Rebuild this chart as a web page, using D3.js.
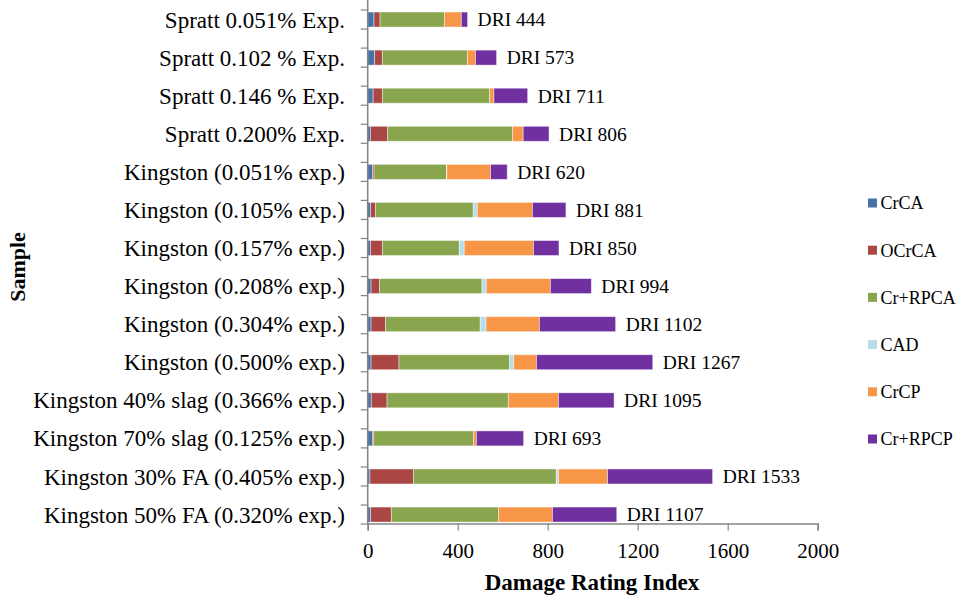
<!DOCTYPE html>
<html>
<head>
<meta charset="utf-8">
<script src="https://cdn.jsdelivr.net/npm/d3@7"></script>
<style>
  html, body { margin: 0; padding: 0; background: #fff; }
  svg { display: block; }
  text { font-family: "Liberation Serif", "Times New Roman", serif; fill: #000; }
</style>
</head>
<body>
<svg id="chart" width="961" height="596"></svg>
<script>
const samples = [
  "Spratt 0.051% Exp.",
  "Spratt 0.102 % Exp.",
  "Spratt 0.146 % Exp.",
  "Spratt 0.200% Exp.",
  "Kingston (0.051% exp.)",
  "Kingston (0.105% exp.)",
  "Kingston (0.157% exp.)",
  "Kingston (0.208% exp.)",
  "Kingston (0.304% exp.)",
  "Kingston (0.500% exp.)",
  "Kingston 40% slag (0.366% exp.)",
  "Kingston 70% slag (0.125% exp.)",
  "Kingston 30% FA (0.405% exp.)",
  "Kingston 50% FA (0.320% exp.)"
];
const seriesNames = ["CrCA", "OCrCA", "Cr+RPCA", "CAD", "CrCP", "Cr+RPCP"];
const seriesColors = ["#4572A7", "#AA4643", "#89A54E", "#B7DEE8", "#F79646", "#7030A0"];

const CrCA    = [28, 31, 24, 12, 21, 13, 13, 15, 15, 15, 16, 21, 10, 13];
const OCrCA   = [27, 34, 41, 77, 7, 21, 52, 37, 64, 124, 70, 6, 193, 92];
const CrRPCA  = [286, 378, 477, 554, 322, 435, 342, 456, 421, 492, 539, 444, 635, 477];
const CAD     = [0, 0, 0, 0, 2, 18, 22, 19, 26, 18, 0, 0, 10, 0];
const CrCP    = [75, 36, 19, 48, 194, 245, 308, 285, 237, 101, 223, 12, 218, 239];
const CrRPCP  = [28, 94, 150, 115, 74, 149, 113, 182, 339, 517, 247, 210, 467, 286];
const DRI     = [444, 573, 711, 806, 620, 881, 850, 994, 1102, 1267, 1095, 693, 1533, 1107];
const xTicks  = [0, 400, 800, 1200, 1600, 2000];

const seriesValues = [CrCA, OCrCA, CrRPCA, CAD, CrCP, CrRPCP];
const rows = samples.map((s, i) => {
  const r = { sample: s, dri: DRI[i] };
  seriesNames.forEach((n, k) => { r[n] = seriesValues[k][i]; });
  return r;
});

const svg = d3.select("#chart");
const x = d3.scaleLinear().domain([0, 2000]).range([367.7, 817.7]);
const y = d3.scaleBand().domain(samples).range([0.5, 533.6]).padding(0);
const barH = 15;
const axisY = 523.5;
const axisColor = "#868686";
const serif = "'Liberation Serif', 'Times New Roman', serif";

const stacked = d3.stack().keys(seriesNames)(rows);

const g = svg.append("g");
stacked.forEach((layer, k) => {
  g.selectAll(null)
    .data(layer)
    .join("rect")
    .attr("x", d => x(d[0]))
    .attr("y", d => y(d.data.sample) + y.bandwidth() / 2 - barH / 2)
    .attr("width", d => Math.max(0, x(d[1]) - x(d[0])))
    .attr("height", barH)
    .attr("fill", seriesColors[k])
    .attr("stroke", "rgba(255,255,255,0.55)")
    .attr("stroke-width", 0.8);
});

// DRI labels
svg.selectAll(".dri")
  .data(rows)
  .join("text")
  .attr("x", d => x(d.dri) + 10)
  .attr("y", d => y(d.sample) + y.bandwidth() / 2)
  .attr("dy", "0.35em")
  .attr("font-size", 19.5)
  .text(d => "DRI " + d.dri);

// Y axis line and ticks
svg.append("line")
  .attr("x1", x(0)).attr("x2", x(0))
  .attr("y1", 0).attr("y2", axisY + 0.5)
  .attr("stroke", axisColor).attr("stroke-width", 1.6);
const yTickPos = [];
samples.forEach(s => {
  const c = y(s) + y.bandwidth() / 2;
  yTickPos.push(c - y.bandwidth() / 4, c + y.bandwidth() / 4);
});
svg.selectAll(".ytick")
  .data(yTickPos)
  .join("line")
  .attr("x1", x(0) - 7).attr("x2", x(0))
  .attr("y1", d => d).attr("y2", d => d)
  .attr("stroke", axisColor).attr("stroke-width", 1.2);

// Y labels
svg.selectAll(".ylab")
  .data(samples)
  .join("text")
  .attr("x", 345)
  .attr("y", d => y(d) + y.bandwidth() / 2)
  .attr("dy", "0.35em")
  .attr("text-anchor", "end")
  .attr("font-size", 23)
  .text(d => d);

// X axis
const xAxis = d3.axisBottom(x).tickValues(xTicks).tickSize(7).tickPadding(13).tickFormat(d3.format("d"));
const xg = svg.append("g").attr("transform", `translate(0,${axisY})`).call(xAxis);
xg.attr("font-family", serif);
xg.select(".domain").attr("stroke", axisColor).attr("stroke-width", 1.6);
xg.selectAll(".tick line").attr("stroke", axisColor).attr("stroke-width", 1.2);
xg.selectAll(".tick text")
  .attr("font-family", serif)
  .attr("font-size", 21)
  .attr("fill", "#000");

// Axis titles
svg.append("text")
  .attr("x", 592).attr("y", 590)
  .attr("text-anchor", "middle")
  .attr("font-size", 23).attr("font-weight", "bold")
  .text("Damage Rating Index");
svg.append("text")
  .attr("transform", "translate(25,267) rotate(-90)")
  .attr("text-anchor", "middle")
  .attr("font-size", 22).attr("font-weight", "bold")
  .text("Sample");

// Legend
const legendY = d3.scalePoint().domain(seriesNames).range([203, 439]);
const lg = svg.selectAll(".leg").data(seriesNames).join("g")
  .attr("transform", d => `translate(868,${legendY(d)})`);
lg.append("rect")
  .attr("x", 0).attr("y", -4.5).attr("width", 9).attr("height", 9)
  .attr("fill", (d, i) => seriesColors[i]);
lg.append("text")
  .attr("x", 12.5).attr("y", 0).attr("dy", "0.35em")
  .attr("font-size", 18)
  .text(d => d);
</script>
</body>
</html>
